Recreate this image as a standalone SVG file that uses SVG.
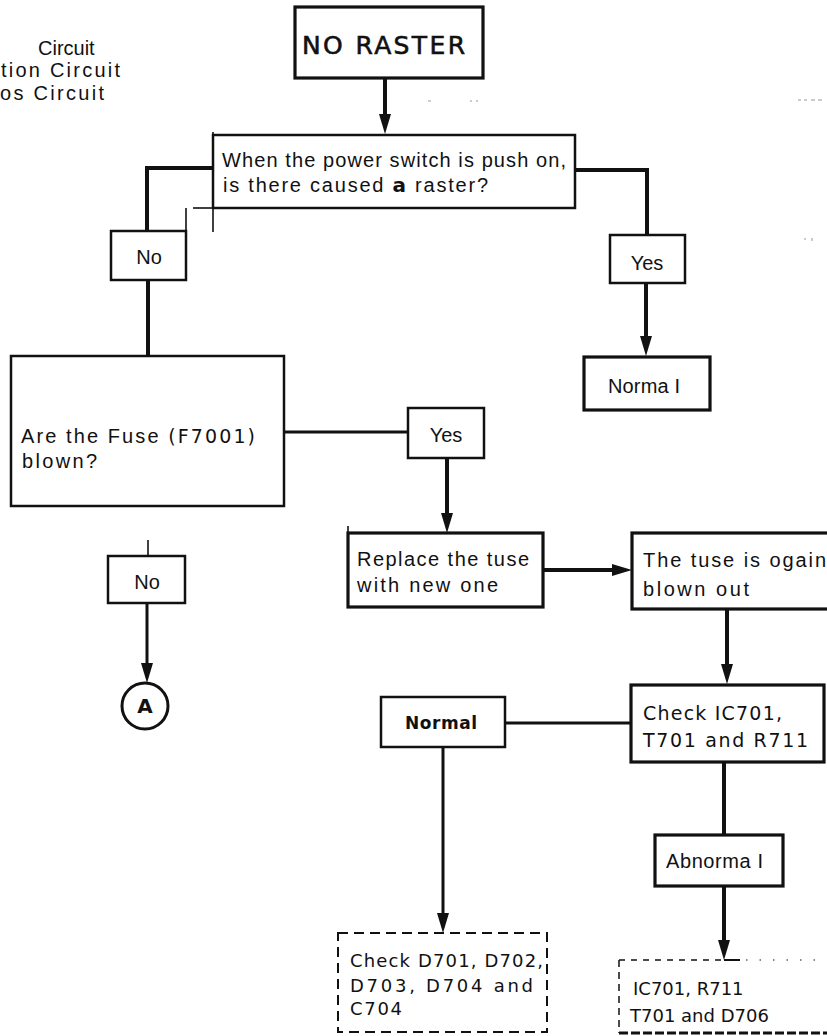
<svg xmlns="http://www.w3.org/2000/svg" width="827" height="1036" viewBox="0 0 827 1036">
  <style>
    .bg { fill: #ffffff; }
    .box { fill: none; stroke: #111; stroke-width: 2.5; }
    .thick { fill: none; stroke: #111; stroke-width: 3.2; }
    .thin { fill: none; stroke: #111; stroke-width: 1.6; }
    .wire { fill: none; stroke: #111; stroke-width: 4; stroke-linejoin: miter; }
    .wire3 { fill: none; stroke: #111; stroke-width: 3; }
    .dash { fill: none; stroke: #111; stroke-width: 2; stroke-dasharray: 10 6; }
    .sans { font-family: "Liberation Sans", Arial, sans-serif; font-size: 20px; fill: #111; }
    .goth { font-family: "DejaVu Sans", "Liberation Sans", sans-serif; font-size: 19px; fill: #111; }
    .gsmall { font-family: "DejaVu Sans", "Liberation Sans", sans-serif; font-size: 18px; fill: #111; }
    .title { font-family: "DejaVu Sans", "Liberation Sans", sans-serif; font-size: 25px; fill: #111; stroke: #111; stroke-width: 0.6; }
    .gothb { font-family: "DejaVu Sans", "Liberation Sans", sans-serif; font-weight: bold; fill: #111; }
    .speck { stroke: #999; stroke-width: 1; }
  </style>
  <defs>
    <marker id="arr" viewBox="0 0 20 12" refX="12" refY="6" markerWidth="20" markerHeight="12" markerUnits="userSpaceOnUse" orient="auto">
      <path d="M0,0 L20,6 L0,12 Z" fill="#111"/>
    </marker>
  </defs>

  <rect class="bg" x="0" y="0" width="827" height="1036"/>

  <!-- partial legend at the page edge -->
  <g id="legend">
    <text class="sans" x="38" y="55">Circuit</text>
    <text class="sans" x="1" y="77" textLength="119" lengthAdjust="spacing">tion Circuit</text>
    <text class="sans" x="0" y="100" textLength="104" lengthAdjust="spacing">os Circuit</text>
  </g>

  <!-- scan specks -->
  <g id="specks">
    <line class="speck" x1="428" y1="101" x2="431" y2="101"/>
    <line class="speck" x1="470" y1="101" x2="472" y2="101"/>
    <line class="speck" x1="476" y1="101" x2="478" y2="101"/>
    <line class="speck" x1="798" y1="100" x2="801" y2="100"/>
    <line class="speck" x1="804" y1="100" x2="807" y2="100"/>
    <line class="speck" x1="811" y1="100" x2="815" y2="100"/>
    <line class="speck" x1="818" y1="100" x2="822" y2="100"/>
    <line class="speck" x1="804" y1="239" x2="806" y2="239"/>
    <line class="speck" x1="812" y1="238" x2="812" y2="241"/>
  </g>

  <!-- connectors -->
  <g id="connectors">
    <line class="wire" x1="385" y1="78" x2="385" y2="126" marker-end="url(#arr)"/>
    <polyline class="wire" points="213,168 147,168 147,232"/>
    <polyline class="wire" points="575,170 647,170 647,235"/>
    <line class="wire" x1="646" y1="283" x2="646" y2="348" marker-end="url(#arr)"/>
    <line class="wire" x1="148" y1="280" x2="148" y2="357"/>
    <line class="wire3" x1="284" y1="432" x2="408" y2="432"/>
    <line class="wire" x1="447" y1="458" x2="447" y2="525" marker-end="url(#arr)"/>
    <line class="wire" x1="543" y1="570" x2="624" y2="570" marker-end="url(#arr)"/>
    <line class="wire" x1="727" y1="609" x2="727" y2="676" marker-end="url(#arr)"/>
    <line class="wire3" x1="505" y1="723" x2="631" y2="723"/>
    <line class="wire3" x1="443" y1="747" x2="443" y2="925" marker-end="url(#arr)"/>
    <line class="wire" x1="724" y1="762" x2="724" y2="835"/>
    <line class="wire" x1="724" y1="886" x2="724" y2="952" marker-end="url(#arr)"/>
    <line class="thin" x1="148" y1="540" x2="148" y2="556"/>
    <line class="wire3" x1="147" y1="603" x2="147" y2="675" marker-end="url(#arr)"/>
  </g>

  <g id="no-raster">
    <rect class="thick" x="295" y="7" width="188" height="71"/>
    <text class="title" x="302" y="54" textLength="163" lengthAdjust="spacing">NO RASTER</text>
  </g>

  <g id="q-raster">
    <rect class="box" x="213" y="135" width="362" height="73"/>
    <line class="thin" x1="213" y1="132" x2="213" y2="232"/>
    <line class="thin" x1="193" y1="208" x2="213" y2="208"/>
    <text class="sans" x="222" y="167" textLength="344" lengthAdjust="spacing">When the power switch is push on,</text>
    <text class="sans" x="223" y="192" textLength="265" lengthAdjust="spacing">is there caused <tspan class="gothb">a</tspan> raster?</text>
  </g>

  <g id="no-1">
    <rect class="box" x="111" y="231" width="75" height="49"/>
    <line class="thin" x1="186" y1="208" x2="186" y2="231"/>
    <text class="sans" x="149" y="264" text-anchor="middle">No</text>
  </g>

  <g id="yes-1">
    <rect class="box" x="610" y="235" width="75" height="48"/>
    <text class="sans" x="647" y="270" text-anchor="middle">Yes</text>
  </g>

  <g id="normal-1">
    <rect class="thick" x="584" y="357" width="126" height="53"/>
    <text class="sans" x="608" y="393" textLength="72" lengthAdjust="spacing">Norma I</text>
  </g>

  <g id="q-fuse">
    <rect class="box" x="11" y="356" width="273" height="150"/>
    <text class="sans" x="21" y="443" textLength="234" lengthAdjust="spacing">Are the Fuse <tspan class="goth">(F7001)</tspan></text>
    <text class="sans" x="22" y="468" textLength="75" lengthAdjust="spacing">blown?</text>
  </g>

  <g id="yes-2">
    <rect class="box" x="408" y="408" width="76" height="50"/>
    <text class="sans" x="446" y="442" text-anchor="middle">Yes</text>
  </g>

  <g id="no-2">
    <rect class="box" x="108" y="556" width="77" height="47"/>
    <text class="sans" x="147" y="589" text-anchor="middle">No</text>
  </g>

  <g id="connector-a">
    <circle class="wire3" cx="145" cy="706" r="23"/>
    <text class="gothb" x="145" y="713" font-size="20" text-anchor="middle">A</text>
  </g>

  <g id="replace">
    <rect class="thick" x="348" y="533" width="195" height="74"/>
    <line class="thin" x1="348" y1="526" x2="348" y2="533"/>
    <text class="sans" x="357" y="566" textLength="172" lengthAdjust="spacing">Replace the tuse</text>
    <text class="sans" x="357" y="592" textLength="141" lengthAdjust="spacing">with new one</text>
  </g>

  <g id="blown-again">
    <rect class="thick" x="632" y="533" width="200" height="76"/>
    <text class="sans" x="643" y="567" textLength="183" lengthAdjust="spacing">The tuse is ogain</text>
    <text class="sans" x="643" y="596" textLength="106" lengthAdjust="spacing">blown out</text>
  </g>

  <g id="check-ic">
    <rect class="thick" x="631" y="685" width="193" height="77"/>
    <text class="goth" x="643" y="720" textLength="139" lengthAdjust="spacing">Check IC701,</text>
    <text class="goth" x="643" y="747" textLength="165" lengthAdjust="spacing">T701 and R711</text>
  </g>

  <g id="normal-2">
    <rect class="box" x="381" y="697" width="124" height="50"/>
    <text class="gothb" x="405" y="729" font-size="17" textLength="72" lengthAdjust="spacing">Normal</text>
  </g>

  <g id="abnormal">
    <rect class="thick" x="655" y="835" width="128" height="51"/>
    <text class="sans" x="666" y="868" textLength="97" lengthAdjust="spacing">Abnorma I</text>
  </g>

  <g id="check-diodes">
    <rect class="dash" x="338" y="933" width="209" height="99"/>
    <text class="gsmall" x="350" y="967" textLength="193" lengthAdjust="spacing">Check D701, D702,</text>
    <text class="gsmall" x="350" y="992" textLength="183" lengthAdjust="spacing">D703, D704 and</text>
    <text class="gsmall" x="350" y="1015" textLength="52" lengthAdjust="spacing">C704</text>
  </g>

  <g id="replace-parts">
    <line x1="619" y1="960" x2="724" y2="960" stroke="#111" stroke-width="1.5" stroke-dasharray="6 6"/>
    <line x1="724" y1="960" x2="740" y2="960" stroke="#111" stroke-width="2"/>
    <line x1="746" y1="960" x2="827" y2="960" stroke="#111" stroke-width="1.2" stroke-dasharray="1.5 12"/>
    <line x1="619" y1="960" x2="619" y2="1033" stroke="#111" stroke-width="1.5" stroke-dasharray="7 5"/>
    <line x1="619" y1="1033" x2="827" y2="1033" stroke="#111" stroke-width="3" stroke-dasharray="9 3"/>
    <text class="gsmall" x="633" y="995">IC701, R711</text>
    <text class="gsmall" x="630" y="1022">T701 and D706</text>
  </g>
</svg>
